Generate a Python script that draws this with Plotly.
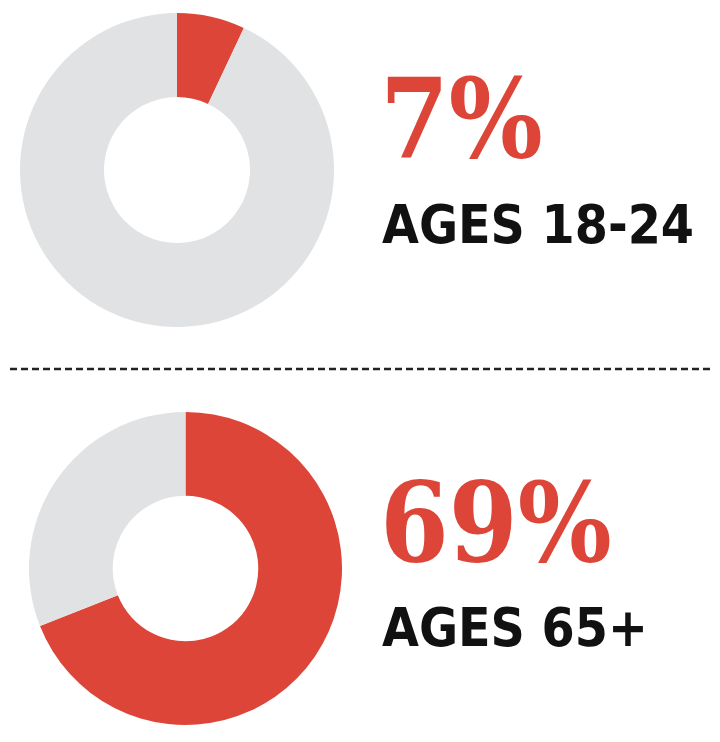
import plotly.graph_objects as go

# Data
groups = ["AGES 18-24", "AGES 65+"]
shares = [7, 69]
labels_pct = ["7%", "69%"]
slice_names = ["Share", "Rest"]

RED = "#DC4538"
GRAY = "#E1E2E4"
OFF = 8  # page body margin
W, H = 720 - OFF, 742 - OFF

def px_dom(x0, x1, y0, y1):
    x0, x1, y0, y1 = x0 - OFF, x1 - OFF, y0 - OFF, y1 - OFF
    return dict(x=[x0 / W, x1 / W], y=[1 - y1 / H, 1 - y0 / H])

def px(x, y):
    return (x - OFF) / W, 1 - (y - OFF) / H

domains = [px_dom(20, 334, 13, 327), px_dom(29, 342, 412, 725)]

fig = go.Figure()
for i, (g, s) in enumerate(zip(groups, shares)):
    fig.add_trace(go.Pie(
        labels=slice_names,
        values=[s, 100 - s],
        hole=0.465,
        sort=False,
        direction="clockwise",
        rotation=0,
        marker=dict(colors=[RED, GRAY], line=dict(width=0)),
        textinfo="none",
        hoverinfo="label+percent",
        domain=domains[i],
        showlegend=False,
    ))

pct_y = [119, 522]
lab_y = [225, 627]
for i in range(2):
    ax, ay = px(378, pct_y[i])
    fig.add_annotation(
        x=ax, y=ay, xref="paper", yref="paper",
        xanchor="left", yanchor="middle", showarrow=False,
        text=labels_pct[i],
        font=dict(family="DejaVu Serif Condensed, DejaVu Serif", size=110, color=RED, weight="bold"),
    )
    bx, by = px(380, lab_y[i])
    fig.add_annotation(
        x=bx, y=by, xref="paper", yref="paper",
        xanchor="left", yanchor="middle", showarrow=False,
        text="<b>" + groups[i] + "</b>",
        font=dict(family="DejaVu Sans Condensed, Roboto", size=53, color="#111111"),
    )

lx0, ly = px(10, 369)
lx1, _ = px(712, 369)
fig.add_shape(
    type="line", xref="paper", yref="paper",
    x0=lx0, x1=lx1, y0=ly, y1=ly,
    line=dict(color="#222222", width=2.5, dash="7px,4px"),
)

fig.update_layout(
    width=W, height=H,
    margin=dict(l=0, r=0, t=0, b=0),
    paper_bgcolor="white", plot_bgcolor="white",
)

fig.write_html("out.html")
